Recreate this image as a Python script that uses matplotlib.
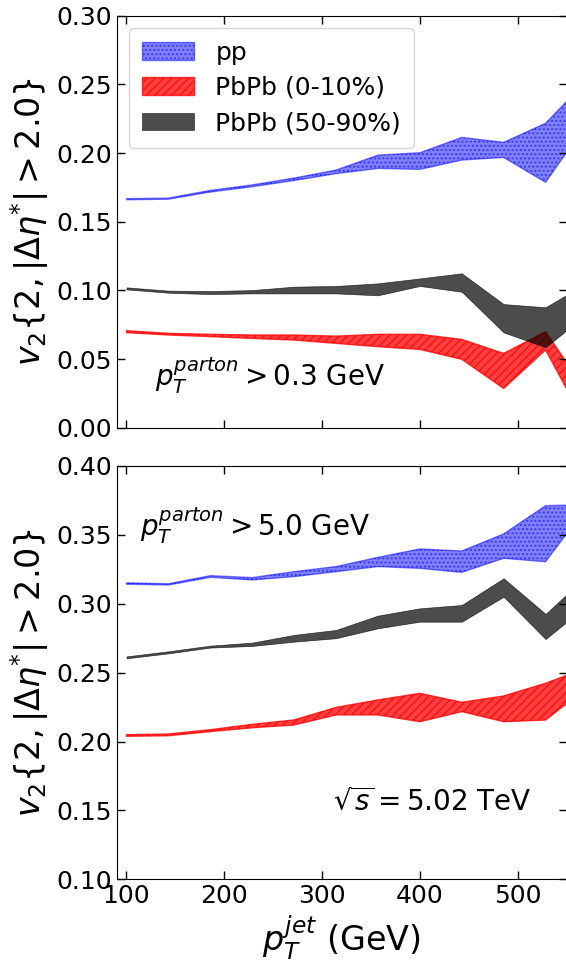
import matplotlib
matplotlib.use("Agg")
import matplotlib.pyplot as plt
import numpy as np

# jet pT bin centres (GeV)
pt_jet = [100.0, 142.9, 185.7, 228.6, 271.4, 314.3, 357.1, 400.0, 442.9, 485.7, 528.6, 571.4]

# ---- top panel: pT^parton > 0.3 GeV ----
pp_hi_a   = [0.1668, 0.1672, 0.1728, 0.1768, 0.1818, 0.1876, 0.1985, 0.2002, 0.2114, 0.2078, 0.2217, 0.2534]
pp_lo_a   = [0.1660, 0.1664, 0.1716, 0.1755, 0.1800, 0.1850, 0.1888, 0.1881, 0.1949, 0.1968, 0.1787, 0.2220]
c50_hi_a  = [0.1022, 0.0998, 0.0995, 0.1002, 0.1027, 0.1032, 0.1051, 0.1087, 0.1124, 0.0900, 0.0877, 0.1056]
c50_lo_a  = [0.1007, 0.0983, 0.0973, 0.0978, 0.0978, 0.0978, 0.0964, 0.1032, 0.0990, 0.0694, 0.0586, 0.0830]
c0_hi_a   = [0.0706, 0.0687, 0.0680, 0.0675, 0.0675, 0.0667, 0.0680, 0.0680, 0.0643, 0.0541, 0.0699, 0.0253]
c0_lo_a   = [0.0692, 0.0675, 0.0663, 0.0650, 0.0638, 0.0614, 0.0590, 0.0570, 0.0498, 0.0286, 0.0566, 0.0000]

# ---- bottom panel: pT^parton > 5.0 GeV ----
pp_hi_b   = [0.3152, 0.3145, 0.3204, 0.3190, 0.3233, 0.3270, 0.3337, 0.3398, 0.3383, 0.3507, 0.3712, 0.3720]
pp_lo_b   = [0.3142, 0.3136, 0.3192, 0.3173, 0.3197, 0.3233, 0.3270, 0.3257, 0.3228, 0.3330, 0.3305, 0.3710]
c50_hi_b  = [0.2618, 0.2655, 0.2696, 0.2718, 0.2774, 0.2810, 0.2914, 0.2967, 0.2991, 0.3185, 0.2926, 0.3209]
c50_lo_b  = [0.2604, 0.2640, 0.2682, 0.2694, 0.2725, 0.2750, 0.2822, 0.2870, 0.2870, 0.3051, 0.2744, 0.2990]
c0_hi_b   = [0.2050, 0.2055, 0.2086, 0.2125, 0.2157, 0.2248, 0.2302, 0.2350, 0.2285, 0.2331, 0.2423, 0.2538]
c0_lo_b   = [0.2038, 0.2042, 0.2072, 0.2100, 0.2120, 0.2193, 0.2193, 0.2144, 0.2217, 0.2144, 0.2156, 0.2393]

labels = ["pp", "PbPb (0-10%)", "PbPb (50-90%)"]

fig = plt.figure(figsize=(5.66, 9.65), dpi=100)
ax1 = fig.add_axes([0.2062, 0.5568, 0.7947, 0.4269])
ax2 = fig.add_axes([0.2062, 0.0888, 0.7947, 0.4283])

def draw(ax, pph, ppl, c0h, c0l, c50h, c50l):
    ax.fill_between(pt_jet, ppl, pph, facecolor="blue", edgecolor="blue", alpha=0.5,
                    hatch="....", linewidth=1.0, label=labels[0])
    ax.fill_between(pt_jet, c0l, c0h, facecolor="red", edgecolor="red", alpha=0.75,
                    hatch="////", linewidth=1.0, label=labels[1])
    ax.fill_between(pt_jet, c50l, c50h, facecolor="black", edgecolor="black", alpha=0.7,
                    linewidth=0.5, label=labels[2])
    ax.set_xlim(90, 550)
    ax.tick_params(direction="in", top=True, right=True, labelsize=18, length=6, width=1)
    ax.set_xticks([100, 200, 300, 400, 500])
    ax.set_ylabel(r"$v_2\{2,|\Delta\eta^{*}|>2.0\}$", fontsize=24)

draw(ax1, pp_hi_a, pp_lo_a, c0_hi_a, c0_lo_a, c50_hi_a, c50_lo_a)
draw(ax2, pp_hi_b, pp_lo_b, c0_hi_b, c0_lo_b, c50_hi_b, c50_lo_b)

ax1.set_ylim(0.0, 0.30)
ax1.set_yticks(np.arange(0.0, 0.301, 0.05))
ax1.set_yticklabels(["%.2f" % v for v in np.arange(0.0, 0.301, 0.05)])
ax1.set_xticklabels([])
ax2.set_ylim(0.10, 0.40)
ax2.set_yticks(np.arange(0.10, 0.401, 0.05))
ax2.set_yticklabels(["%.2f" % v for v in np.arange(0.10, 0.401, 0.05)])

ax1.legend(loc="upper left", fontsize=18, handlelength=2.1, borderpad=0.5,
           labelspacing=0.45, handletextpad=0.85, bbox_to_anchor=(0.0, 1.0))

ax1.text(129, 0.030, r"$p_T^{parton}>0.3$ GeV", fontsize=20, ha="left", va="baseline")
ax2.text(113.6, 0.349, r"$p_T^{parton}>5.0$ GeV", fontsize=20, ha="left", va="baseline")
ax2.text(310.8, 0.1503, r"$\sqrt{s}=5.02$ TeV", fontsize=20, ha="left", va="baseline")

ax2.set_xlabel(r"$p_T^{jet}$ (GeV)", fontsize=24)

fig.savefig("out.png", dpi=100)
